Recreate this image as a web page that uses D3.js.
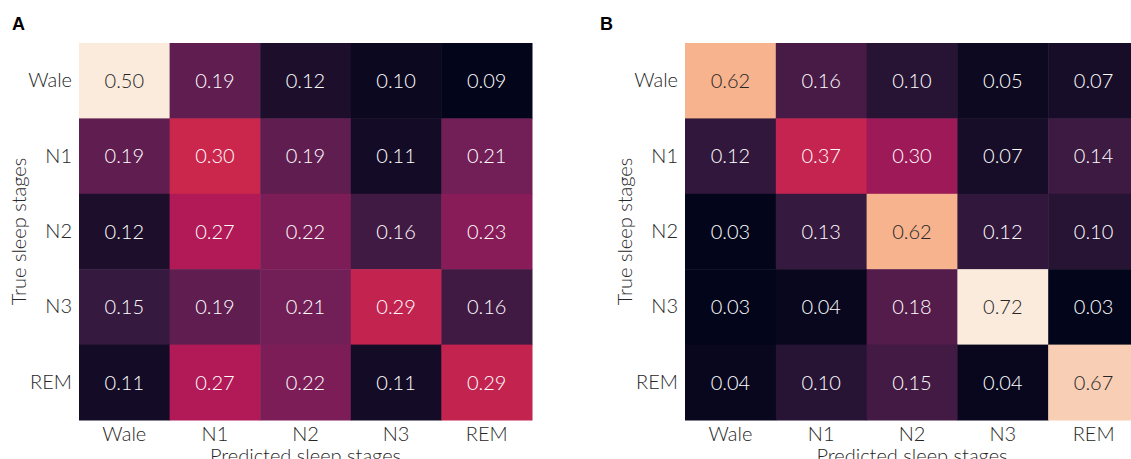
<!DOCTYPE html>
<html>
<head>
<meta charset="utf-8">
<script src="https://cdn.jsdelivr.net/npm/d3@7"></script>
<style>
  body { margin: 0; background: #fff; }
  svg { display: block; font-family: Lato, "Open Sans", sans-serif; font-weight: 300; }
</style>
</head>
<body>
<svg id="chart" width="1131" height="459"></svg>
<script>
// Stage names
const stages = ['Wale', 'N1', 'N2', 'N3', 'REM'];

// Confusion matrices (rows: true stage, columns: predicted stage)
const matrixA = [
  [0.50, 0.19, 0.12, 0.10, 0.09],
  [0.19, 0.30, 0.19, 0.11, 0.21],
  [0.12, 0.27, 0.22, 0.16, 0.23],
  [0.15, 0.19, 0.21, 0.29, 0.16],
  [0.11, 0.27, 0.22, 0.11, 0.29]
];
const matrixB = [
  [0.62, 0.16, 0.10, 0.05, 0.07],
  [0.12, 0.37, 0.30, 0.07, 0.14],
  [0.03, 0.13, 0.62, 0.12, 0.10],
  [0.03, 0.04, 0.18, 0.72, 0.03],
  [0.04, 0.10, 0.15, 0.04, 0.67]
];

// seaborn "rocket" colormap stops
const rocket = ['#03051a', '#35193e', '#701f57', '#ad1759', '#e13342', '#f37651', '#f6b48f', '#faebdd'];

const svg = d3.select('#chart');

const panels = [
  { letter: 'A', data: matrixA, x0: 79, x1: 532, ylabX: 19, letterX: 12 },
  { letter: 'B', data: matrixB, x0: 685, x1: 1139, ylabX: 625, letterX: 600 }
];
const mapTop = 43, mapBottom = 420;

panels.forEach(p => {
  const g = svg.append('g');

  const xScale = d3.scaleBand().domain(stages).range([p.x0, p.x1]);
  const yScale = d3.scaleBand().domain(stages).range([mapTop, mapBottom]);

  const flat = p.data.flat();
  const color = d3.scaleLinear()
    .domain(d3.range(rocket.length).map(i => d3.min(flat) + (d3.max(flat) - d3.min(flat)) * i / (rocket.length - 1)))
    .range(rocket)
    .interpolate(d3.interpolateRgb);

  const cells = [];
  p.data.forEach((row, i) => row.forEach((v, j) => cells.push({ row: stages[i], col: stages[j], v })));

  g.selectAll('rect')
    .data(cells)
    .enter()
    .append('rect')
    .attr('x', d => xScale(d.col))
    .attr('y', d => yScale(d.row))
    .attr('width', xScale.bandwidth() + 0.5)
    .attr('height', yScale.bandwidth() + 0.5)
    .attr('fill', d => color(d.v));

  g.selectAll('.cell-label')
    .data(cells)
    .enter()
    .append('text')
    .attr('class', 'cell-label')
    .attr('x', d => xScale(d.col) + xScale.bandwidth() / 2)
    .attr('y', d => yScale(d.row) + yScale.bandwidth() / 2)
    .attr('dy', '0.36em')
    .attr('text-anchor', 'middle')
    .attr('font-size', 20)
    .attr('fill', d => {
      const c = d3.rgb(color(d.v));
      const lum = 0.2126 * c.r + 0.7152 * c.g + 0.0722 * c.b;
      return lum > 104 ? '#262626' : '#ffffff';
    })
    .text(d => d.v.toFixed(2));

  // Axes
  const xAxis = d3.axisBottom(xScale).tickSize(0).tickPadding(7);
  const yAxis = d3.axisLeft(yScale).tickSize(0).tickPadding(7);

  g.append('g')
    .attr('transform', `translate(0, ${mapBottom})`)
    .call(xAxis)
    .call(a => a.select('.domain').remove())
    .selectAll('text')
    .attr('font-size', 20)
    .attr('fill', '#262626');

  g.append('g')
    .attr('transform', `translate(${p.x0}, 0)`)
    .call(yAxis)
    .call(a => a.select('.domain').remove())
    .selectAll('text')
    .attr('font-size', 20)
    .attr('fill', '#262626');

  // Axis titles
  g.append('text')
    .attr('x', (p.x0 + p.x1) / 2)
    .attr('y', 463)
    .attr('text-anchor', 'middle')
    .attr('font-size', 20)
    .attr('fill', '#262626')
    .text('Predicted sleep stages');

  g.append('text')
    .attr('transform', `translate(${p.ylabX + 7}, ${(mapTop + mapBottom) / 2}) rotate(-90)`)
    .attr('text-anchor', 'middle')
    .attr('font-size', 20)
    .attr('fill', '#262626')
    .text('True sleep stages');

  // Panel letter
  g.append('text')
    .attr('x', p.letterX)
    .attr('y', 30)
    .attr('font-size', 18)
    .attr('font-weight', 'bold')
    .attr('font-family', 'Liberation Sans, Arial, sans-serif')
    .attr('fill', '#000')
    .text(p.letter);
});

// let axis text inherit the svg font
svg.selectAll('.tick').each(function () { d3.select(this.parentNode).attr('font-family', null); });
</script>
</body>
</html>
